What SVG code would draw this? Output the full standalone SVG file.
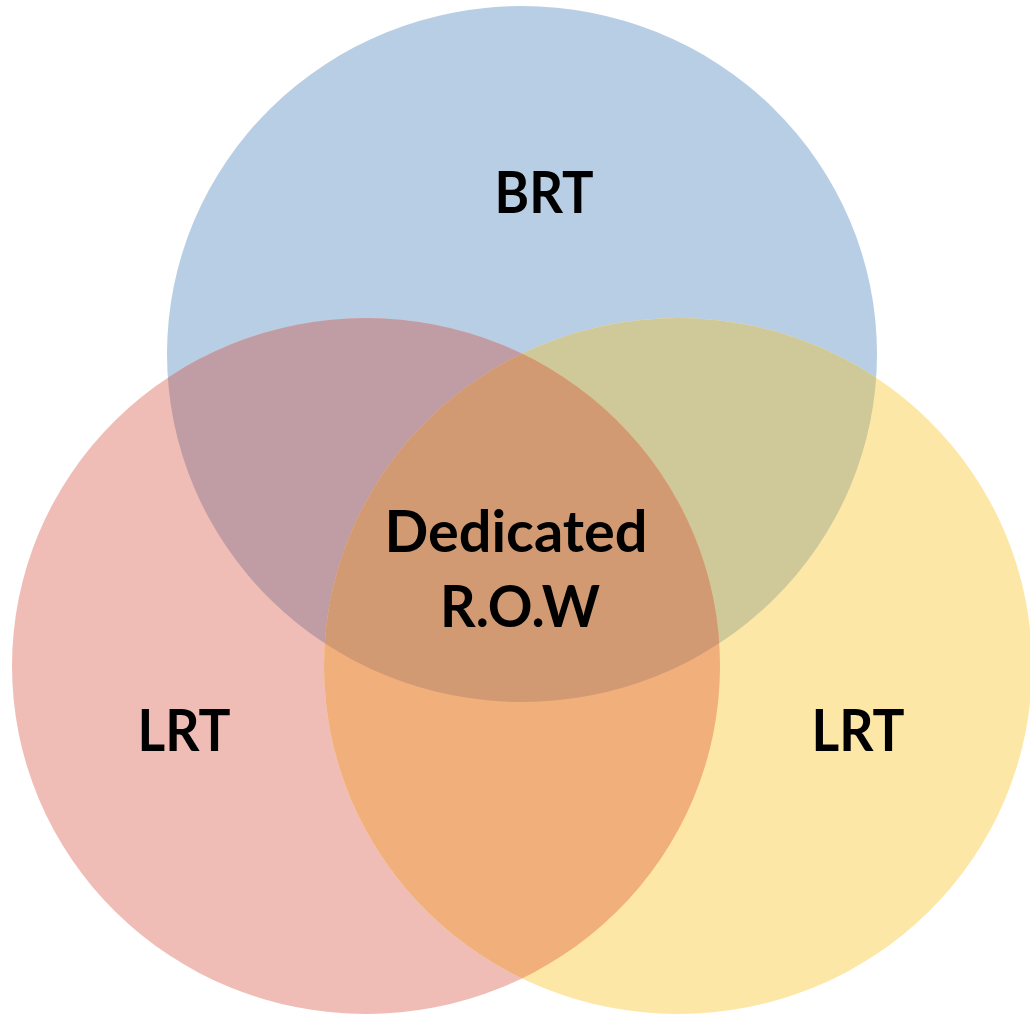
<svg xmlns="http://www.w3.org/2000/svg" width="1030" height="1015" viewBox="0 0 1030 1015">
  <style>
    .lbl { font-family: Lato, "Open Sans", "Liberation Sans", sans-serif; font-weight: 700; font-size: 57px; fill: #000; text-anchor: middle; }
  </style>
  <defs>
    <clipPath id="clipR"><ellipse cx="366" cy="666" rx="354" ry="348"/></clipPath>
    <clipPath id="clipY"><ellipse cx="678" cy="666" rx="354" ry="348"/></clipPath>
  </defs>

  <rect width="1030" height="1015" fill="#ffffff"/>

  <!-- three sets -->
  <g id="set-brt">
    <ellipse cx="522" cy="354" rx="355" ry="348" fill="#b8cee5"/>
  </g>
  <g id="set-lrt-left">
    <ellipse cx="366" cy="666" rx="354" ry="348" fill="#efbdb6"/>
  </g>
  <g id="set-lrt-right">
    <ellipse cx="678" cy="666" rx="354" ry="348" fill="#fde7a7"/>
  </g>

  <!-- overlap regions -->
  <g id="overlaps">
    <ellipse cx="522" cy="354" rx="355" ry="348" fill="#c09ca5" clip-path="url(#clipR)"/>
    <ellipse cx="522" cy="354" rx="355" ry="348" fill="#cfc999" clip-path="url(#clipY)"/>
    <ellipse cx="366" cy="666" rx="354" ry="348" fill="#f0af7b" clip-path="url(#clipY)"/>
    <g id="set-dedicated-row" clip-path="url(#clipY)">
      <ellipse cx="522" cy="354" rx="355" ry="348" fill="#d29a72" clip-path="url(#clipR)"/>
    </g>
  </g>

  <!-- labels -->
  <g id="labels">
    <text class="lbl" x="544" y="213" textLength="99" lengthAdjust="spacingAndGlyphs">BRT</text>
    <text class="lbl" x="516" y="552" textLength="263" lengthAdjust="spacingAndGlyphs">Dedicated</text>
    <text class="lbl" x="520" y="627" textLength="160" lengthAdjust="spacingAndGlyphs">R.O.W</text>
    <text class="lbl" x="184" y="751" textLength="93" lengthAdjust="spacingAndGlyphs">LRT</text>
    <text class="lbl" x="858" y="751" textLength="93" lengthAdjust="spacingAndGlyphs">LRT</text>
  </g>
</svg>
